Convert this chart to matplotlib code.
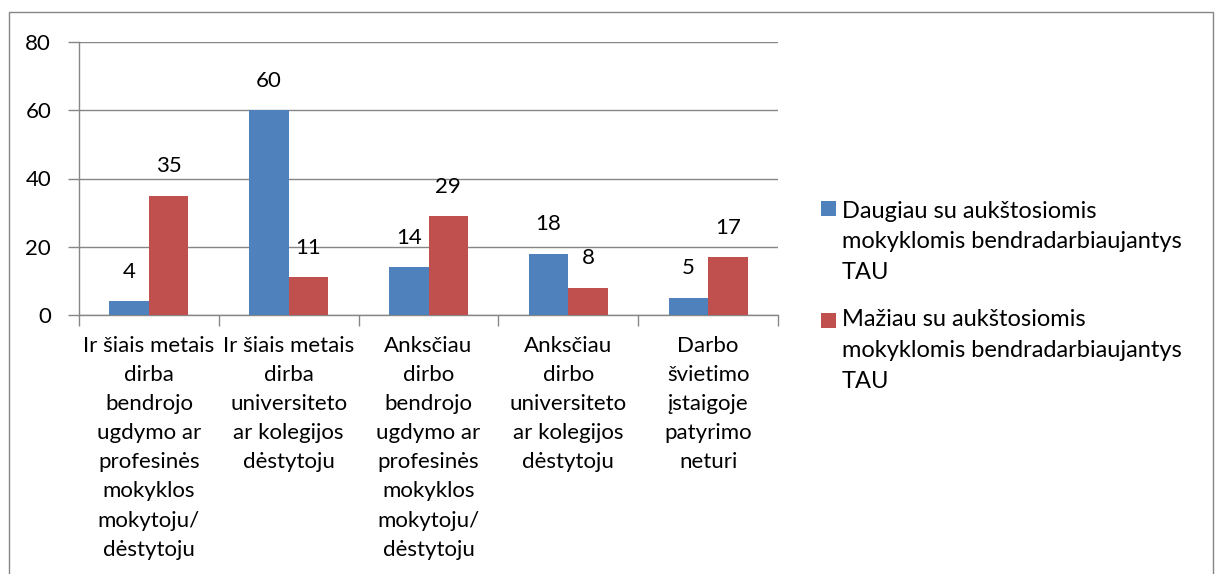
import matplotlib.pyplot as plt
from matplotlib.patches import Rectangle
import numpy as np

plt.rcParams['font.family'] = ['Lato', 'DejaVu Sans']

categories = [
    "Ir šiais metais\ndirba\nbendrojo\nugdymo ar\nprofesinės\nmokyklos\nmokytoju/\ndėstytoju",
    "Ir šiais metais\ndirba\nuniversiteto\nar kolegijos\ndėstytoju",
    "Anksčiau\ndirbo\nbendrojo\nugdymo ar\nprofesinės\nmokyklos\nmokytoju/\ndėstytoju",
    "Anksčiau\ndirbo\nuniversiteto\nar kolegijos\ndėstytoju",
    "Darbo\nšvietimo\nįstaigoje\npatyrimo\nneturi",
]
series_names = [
    "Daugiau su aukštosiomis\nmokyklomis bendradarbiaujantys\nTAU",
    "Mažiau su aukštosiomis\nmokyklomis bendradarbiaujantys\nTAU",
]
more_values = [4, 60, 14, 18, 5]
less_values = [35, 11, 29, 8, 17]
y_ticks = [0, 20, 40, 60, 80]

colors = ["#4F81BD", "#C0504D"]
grey = "#868686"
W, H = 1221, 574
fig = plt.figure(figsize=(W / 100, H / 100), dpi=100)

# outer chart frame (bottom edge runs past the canvas)
fig.patches.append(Rectangle((9 / W, -0.05), (1213 - 9) / W, 1.05 - 12 / H,
                             transform=fig.transFigure, fill=False,
                             edgecolor=grey, linewidth=1.0))

ax = fig.add_axes([79 / W, 1 - 315 / H, (778 - 79) / W, (315 - 42) / H])
x = np.arange(len(categories))
bw = 0.283
b1 = ax.bar(x - bw / 2, more_values, bw, color=colors[0], zorder=3)
b2 = ax.bar(x + bw / 2, less_values, bw, color=colors[1], zorder=3)

for bars, vals in ((b1, more_values), (b2, less_values)):
    for rect, v in zip(bars, vals):
        ax.annotate(str(v), (rect.get_x() + rect.get_width() / 2, v),
                    xytext=(0, 14), textcoords="offset points",
                    ha="center", va="bottom", fontsize=16, color="black")

ax.set_xlim(-0.5, len(categories) - 0.5)
ax.set_ylim(0, 80)
ax.set_yticks(y_ticks)
ax.set_yticklabels([str(t) for t in y_ticks], fontsize=16)
ax.yaxis.grid(True, color=grey, linewidth=1.0, zorder=0)
ax.set_axisbelow(True)

ax.set_xticks(x)
ax.set_xticklabels(categories, fontsize=16, linespacing=1.57, va="top")
ax.tick_params(axis="x", length=0, pad=15)
ax.set_xticks(np.arange(-0.5, len(categories) + 0.5, 1), minor=True)
ax.tick_params(axis="x", which="minor", length=8, color=grey, width=1)
ax.tick_params(axis="y", length=8, color=grey, width=1, pad=12)

for s in ("top", "right"):
    ax.spines[s].set_visible(False)
for s in ("left", "bottom"):
    ax.spines[s].set_color(grey)
    ax.spines[s].set_linewidth(1.0)

# legend: square key aligned with the first line of each entry
key_tops = [201, 313]
first_line_centres = [209, 318]
for name, col, top, yc in zip(series_names, colors, key_tops, first_line_centres):
    fig.patches.append(Rectangle((821 / W, 1 - (top + 15) / H), 15 / W, 15 / H,
                                 transform=fig.transFigure, facecolor=col,
                                 edgecolor="none"))
    fig.text(842 / W, 1 - (yc - 8.5) / H, name, fontsize=17, ha="left",
             va="top", linespacing=1.58)

fig.savefig("out.png", dpi=100)
